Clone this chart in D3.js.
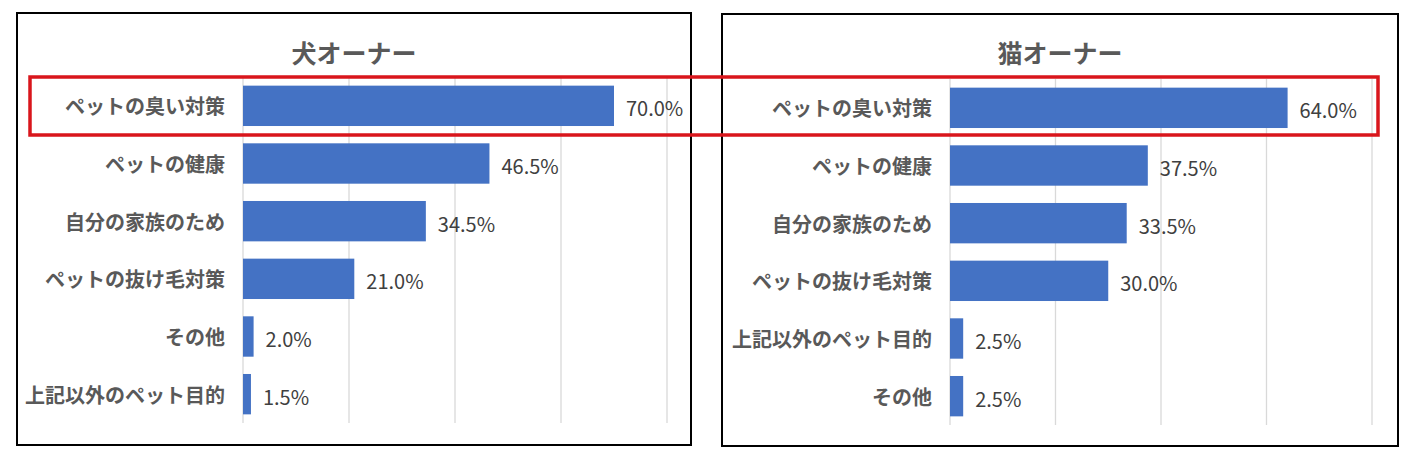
<!DOCTYPE html>
<html>
<head>
<meta charset="utf-8">
<script src="https://cdn.jsdelivr.net/npm/d3@7"></script>
<style>
  body { margin: 0; background: #fff; }
  svg { display: block; }
  .cat { font-family: "Noto Sans CJK JP", sans-serif; font-weight: 700; font-size: 20px; fill: #595959; }
  .val { font-family: "Noto Sans CJK JP", sans-serif; font-size: 20px; fill: #404040; }
  .title { font-family: "Noto Sans CJK JP", sans-serif; font-weight: 700; font-size: 25px; fill: #595959; }
</style>
</head>
<body>
<div id="chart"></div>
<script>
// dog owners
var dogTitle = "犬オーナー";
var dogCats = ["ペットの臭い対策", "ペットの健康", "自分の家族のため", "ペットの抜け毛対策", "その他", "上記以外のペット目的"];
var dogVals = [70.0, 46.5, 34.5, 21.0, 2.0, 1.5];

// cat owners
var catTitle = "猫オーナー";
var catCats = ["ペットの臭い対策", "ペットの健康", "自分の家族のため", "ペットの抜け毛対策", "上記以外のペット目的", "その他"];
var catVals = [64.0, 37.5, 33.5, 30.0, 2.5, 2.5];

var gridTicks = [0, 20, 40, 60, 80];

var width = 1416, height = 460;

var svg = d3.select("#chart")
  .append("svg")
  .attr("width", width)
  .attr("height", height);

// one panel per owner type
function drawPanel(opt) {
  var g = svg.append("g");

  // frame
  g.append("rect")
    .attr("x", opt.box[0])
    .attr("y", opt.box[1])
    .attr("width", opt.box[2] - opt.box[0])
    .attr("height", opt.box[3] - opt.box[1])
    .attr("fill", "#fff")
    .attr("stroke", "#000")
    .attr("stroke-width", 2);

  g.append("text")
    .attr("class", "title")
    .attr("x", (opt.box[0] + opt.box[2]) / 2)
    .attr("y", 52)
    .attr("text-anchor", "middle")
    .attr("dominant-baseline", "central")
    .text(opt.title);

  var xScale = d3.scaleLinear()
    .domain([0, 80])
    .range([opt.x0, opt.x1]);

  var yScale = d3.scaleBand()
    .domain(opt.cats)
    .range([opt.y0, opt.y1])
    .paddingInner(0.3)
    .paddingOuter(0.15);

  // vertical gridlines
  g.selectAll(".grid")
    .data(gridTicks)
    .enter()
    .append("line")
    .attr("x1", function(d) { return xScale(d); })
    .attr("x2", function(d) { return xScale(d); })
    .attr("y1", opt.y0)
    .attr("y2", opt.y1)
    .attr("stroke", "#d9d9d9")
    .attr("stroke-width", 1.3);

  var rows = opt.cats.map(function(c, i) { return { cat: c, val: opt.vals[i] }; });

  g.selectAll(".bar")
    .data(rows)
    .enter()
    .append("rect")
    .attr("x", xScale(0))
    .attr("y", function(d) { return yScale(d.cat); })
    .attr("width", function(d) { return xScale(d.val) - xScale(0); })
    .attr("height", yScale.bandwidth())
    .attr("fill", "#4472c4");

  g.selectAll(".cat")
    .data(rows)
    .enter()
    .append("text")
    .attr("class", "cat")
    .attr("x", opt.x0 - 18)
    .attr("y", function(d) { return yScale(d.cat) + yScale.bandwidth() / 2; })
    .attr("text-anchor", "end")
    .attr("dominant-baseline", "central")
    .text(function(d) { return d.cat; });

  g.selectAll(".val")
    .data(rows)
    .enter()
    .append("text")
    .attr("class", "val")
    .attr("x", function(d) { return xScale(d.val) + 12; })
    .attr("y", function(d) { return yScale(d.cat) + yScale.bandwidth() / 2 + 2; })
    .attr("dominant-baseline", "central")
    .text(function(d) { return d.val.toFixed(1) + "%"; });
}

drawPanel({
  title: dogTitle, cats: dogCats, vals: dogVals,
  box: [17, 13, 691, 445],
  x0: 243, x1: 667, y0: 77, y1: 423
});

drawPanel({
  title: catTitle, cats: catCats, vals: catVals,
  box: [722, 14, 1398, 446],
  x0: 950, x1: 1372, y0: 79, y1: 425
});

// red highlight around the top row of both panels
svg.append("rect")
  .attr("x", 30)
  .attr("y", 77)
  .attr("width", 1348)
  .attr("height", 58)
  .attr("fill", "none")
  .attr("stroke", "#d9161c")
  .attr("stroke-width", 3.5);
</script>
</body>
</html>
